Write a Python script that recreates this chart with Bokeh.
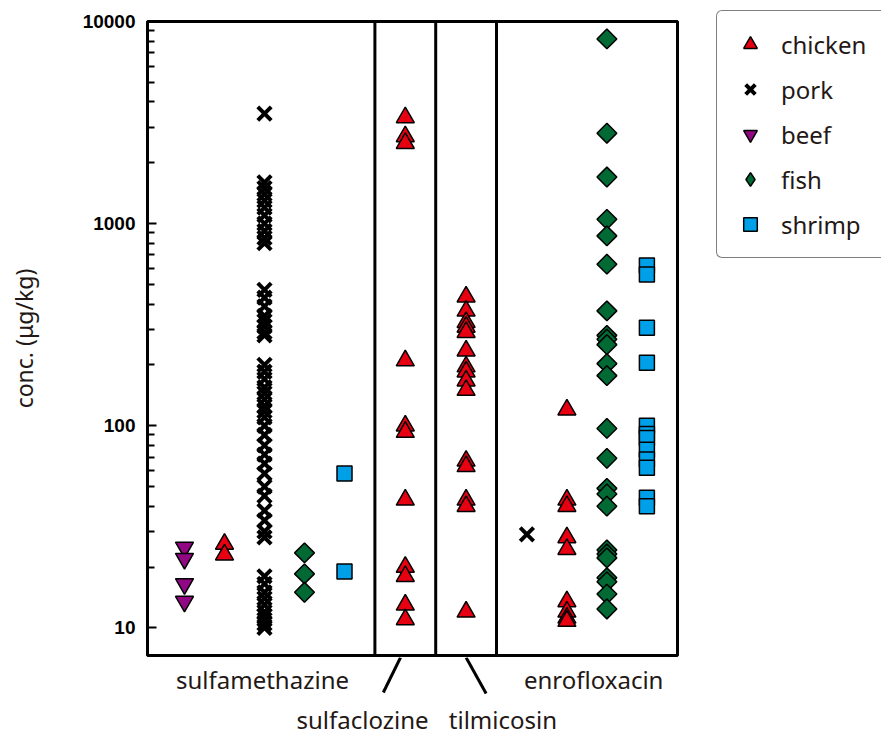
import math
from bokeh.plotting import figure
from bokeh.layouts import row, column
from bokeh.models import (ColumnDataSource, Span, Legend, LegendItem,
                          FixedTicker, NumeralTickFormatter, Range1d)
from bokeh.core.properties import value
from bokeh.embed import file_html
from bokeh.resources import INLINE

# ---------------- data (µg/kg) ----------------
drugs = ["sulfamethazine", "sulfaclozine", "tilmicosin", "enrofloxacin"]
species = ["chicken", "pork", "beef", "fish", "shrimp"]
group_members = {
    "sulfamethazine": ["beef", "chicken", "pork", "fish", "shrimp"],
    "sulfaclozine": ["chicken"],
    "tilmicosin": ["chicken"],
    "enrofloxacin": ["pork", "chicken", "fish", "shrimp"],
}

sulfamethazine_beef = [25, 22, 16.5, 13.5]
sulfamethazine_chicken = [26, 23]
sulfamethazine_pork = [3500, 1600, 1500, 1400, 1300, 1200, 1100, 1000, 920, 850, 800,
                       470, 430, 390, 350, 330, 310, 290, 280,
                       200, 185, 170, 155, 145, 135, 125, 118, 110, 100, 90, 80, 72,
                       65, 58, 50, 45, 38, 34, 30, 28,
                       18, 16.5, 15, 14, 13, 12, 11.5, 11, 10.5, 10]
sulfamethazine_fish = [23.5, 18.5, 15]
sulfamethazine_shrimp = [58, 19]
sulfaclozine_chicken = [3350, 2700, 2500, 210, 100, 93, 43, 20, 18, 13, 11]
tilmicosin_chicken = [435, 370, 325, 308, 290, 235, 196, 185, 167, 150, 67, 63, 43, 40, 12]
enrofloxacin_pork = [29]
enrofloxacin_chicken = [120, 43, 40, 28, 24.5, 13.5, 12, 11.2, 10.8]
enrofloxacin_fish = [8200, 2800, 1700, 1050, 870, 630, 370, 280, 268, 252, 203, 177,
                     97, 69, 49, 46, 40, 24.3, 23.2, 22.2, 17.7, 16.9, 14.7, 12.4]
enrofloxacin_shrimp = [620, 560, 305, 205, 100, 91, 87, 76, 68, 62, 44, 40]

values = {
    ("sulfamethazine", "beef"): sulfamethazine_beef,
    ("sulfamethazine", "chicken"): sulfamethazine_chicken,
    ("sulfamethazine", "pork"): sulfamethazine_pork,
    ("sulfamethazine", "fish"): sulfamethazine_fish,
    ("sulfamethazine", "shrimp"): sulfamethazine_shrimp,
    ("sulfaclozine", "chicken"): sulfaclozine_chicken,
    ("tilmicosin", "chicken"): tilmicosin_chicken,
    ("enrofloxacin", "pork"): enrofloxacin_pork,
    ("enrofloxacin", "chicken"): enrofloxacin_chicken,
    ("enrofloxacin", "fish"): enrofloxacin_fish,
    ("enrofloxacin", "shrimp"): enrofloxacin_shrimp,
}

y_ticks = [10, 100, 1000, 10000]
y_label = "conc. (\u03bcg/kg)"

# ---------------- layout of category slots ----------------
GAP = 0.76
slot = {}
dividers = []
group_center = {}
pos = 1.0
for gi, d in enumerate(drugs):
    if gi > 0:
        dividers.append(pos + GAP - 1.0)
        pos = pos + 2 * GAP - 1.0
    xs = []
    for s in group_members[d]:
        slot[(d, s)] = pos
        xs.append(pos)
        pos += 1.0
    group_center[d] = sum(xs) / len(xs)
x_start = 1.0 - 0.925
x_end = pos - 1.0 + 0.765
x_range = Range1d(x_start, x_end)

y_start, y_end = 7.3, 10000

# ---------------- main figure ----------------
p = figure(width=700, height=657, y_axis_type="log",
           x_range=x_range, y_range=Range1d(y_start, y_end),
           output_backend="svg", toolbar_location=None,
           min_border_left=147, min_border_right=23,
           min_border_top=21, min_border_bottom=2)
p.background_fill_color = "white"
p.border_fill_color = "white"
p.grid.visible = False
p.xaxis.visible = False
p.outline_line_color = "black"
p.outline_line_width = 3

ax = p.yaxis[0]
minor = [m * 10 ** k for k in range(1, 4) for m in range(2, 10)]
ax.ticker = FixedTicker(ticks=y_ticks, minor_ticks=minor)
ax.formatter = NumeralTickFormatter(format="0")
ax.axis_line_color = "black"
ax.axis_line_width = 3
ax.major_tick_in = 9
ax.major_tick_out = 0
ax.minor_tick_in = 7
ax.minor_tick_out = 0
ax.major_tick_line_width = 2
ax.minor_tick_line_width = 2
ax.major_label_standoff = 12
ax.major_label_text_font = "Liberation Sans"
ax.major_label_text_font_style = "bold"
ax.major_label_text_font_size = "19px"
ax.major_label_text_color = "black"
ax.axis_label = y_label
ax.axis_label_text_font = "Noto Sans"
ax.axis_label_text_font_style = "normal"
ax.axis_label_text_font_size = "23px"
ax.axis_label_text_color = "#231815"
ax.axis_label_standoff = 40

for dx in dividers:
    p.add_layout(Span(location=dx, dimension="height", line_color="black", line_width=3))

styles = {
    "chicken": dict(marker="triangle", size=18, fill_color="#e60012", line_color="black", line_width=1.5),
    "pork": dict(marker="x", size=19, line_color="black", line_width=4),
    "beef": dict(marker="inverted_triangle", size=18, fill_color="#920783", line_color="black", line_width=1.5),
    "fish": dict(marker="square", angle=math.pi / 4, size=14, fill_color="#006934", line_color="black", line_width=1.5),
    "shrimp": dict(marker="square", size=15, fill_color="#00a0e9", line_color="black", line_width=1.5),
}

for s in ["pork", "beef", "fish", "shrimp", "chicken"]:
    xs, ys = [], []
    for d in drugs:
        if (d, s) in values:
            for v in values[(d, s)]:
                xs.append(slot[(d, s)])
                ys.append(v)
    p.scatter("x", "y", source=ColumnDataSource(dict(x=xs, y=ys)), **styles[s])

# ---------------- category labels strip (below the frame) ----------------
b = figure(width=700, height=80, x_range=x_range, y_range=Range1d(80, 0),
           output_backend="svg", toolbar_location=None,
           min_border_left=147, min_border_right=23, min_border_top=0, min_border_bottom=0)
b.axis.visible = False
b.grid.visible = False
b.outline_line_color = None
b.background_fill_color = "white"
b.border_fill_color = "white"

sc, tm = group_center["sulfaclozine"], group_center["tilmicosin"]
b.segment(x0=[sc - 0.12, tm], y0=[0, 0], x1=[sc - 0.55, tm + 0.5], y1=[35, 36],
          line_color="black", line_width=3)
lab = ColumnDataSource(dict(
    x=[group_center["sulfamethazine"] - 0.05, group_center["enrofloxacin"] + 0.17, sc - 1.07, tm + 0.92],
    y=[22, 22, 62, 62],
    t=["sulfamethazine", "enrofloxacin", "sulfaclozine", "tilmicosin"]))
b.text("x", "y", text="t", source=lab, text_font=value("Noto Sans"), text_font_size="24px",
       text_color="#231815", text_align="center", text_baseline="alphabetic")

# ---------------- legend panel ----------------
lg = figure(width=181, height=737, x_range=Range1d(0, 1), y_range=Range1d(0, 1),
            output_backend="svg", toolbar_location=None,
            min_border=0, min_border_left=0, min_border_right=0,
            min_border_top=0, min_border_bottom=0)
lg.axis.visible = False
lg.grid.visible = False
lg.outline_line_color = None
lg.background_fill_color = "white"
lg.border_fill_color = "white"
leg_styles = dict(styles)
leg_styles["fish"] = dict(marker="diamond", size=18, fill_color="#006934", line_color="black", line_width=1.5)
leg_r = {s: lg.scatter(x=[-5], y=[-5], **leg_styles[s]) for s in species}

legend = Legend(items=[LegendItem(label=s, renderers=[leg_r[s]]) for s in species],
                location=(16, 479))
legend.label_text_font = "Noto Sans"
legend.label_text_font_size = "24px"
legend.label_text_color = "#231815"
legend.glyph_width = 34
legend.glyph_height = 34
legend.spacing = 11
legend.padding = 16
legend.margin = 0
legend.label_standoff = 14
legend.label_width = 220
legend.border_line_color = "black"
legend.border_line_width = 1.5
legend.background_fill_color = "white"
legend.background_fill_alpha = 1
try:
    legend.border_radius = 6
except Exception:
    pass
lg.add_layout(legend)

layout = row(column(p, b), lg)
open("out.html", "w").write(file_html(layout, INLINE))
